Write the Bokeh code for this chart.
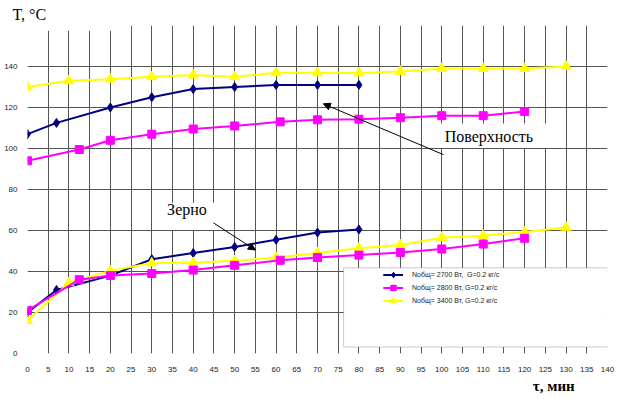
from bokeh.plotting import figure
from bokeh.models import (FixedTicker, Legend, LegendItem, BoxAnnotation, Label,
                          Arrow, NormalHead, Range1d, Title)
from bokeh.embed import file_html
from bokeh.resources import INLINE

# ---- data ----
tau_2700 = [0, 7, 20, 30, 40, 50, 60, 70, 80]
surf_2700 = [107, 112.5, 120, 125, 129, 130, 131, 131, 131]
grain_2700 = [20, 31, 38, 46, 49, 52, 55.5, 59, 60.5]

tau_2800 = [0, 12.5, 20, 30, 40, 50, 61, 70, 80, 90, 100, 110, 120]
surf_2800 = [94, 99.5, 104, 107, 109.5, 111, 113, 114, 114.3, 115, 116, 116, 118]
grain_2800 = [21, 36, 38, 39, 40.7, 43, 45.5, 46.8, 48, 49.3, 51, 53.4, 56.2]

tau_3400 = [0, 10, 20, 30, 40, 50, 60, 70, 80, 90, 100, 110, 120, 130]
surf_3400 = [130, 133, 133.8, 135, 135.8, 135, 136.9, 136.9, 136.8, 137.6, 139, 139, 139, 140]
grain_3400 = [16, 34.5, 40.3, 44.1, 44.3, 45.2, 46.8, 49, 51.3, 52.9, 56.5, 57.4, 59.3, 61.5]

labels = ["Nобщ= 2700 Вт,  G=0.2 кг/с",
          "Nобщ= 2800 Вт, G=0.2 кг/с",
          "Nобщ= 3400 Вт, G=0.2 кг/с"]
x_ticks = list(range(0, 145, 5))
y_ticks = list(range(0, 160, 20))
y_grid = list(range(0, 180, 20))

p = figure(width=637, height=399, output_backend="svg", toolbar_location=None,
           x_range=Range1d(0, 140), y_range=Range1d(0, 160),
           min_border_left=27, min_border_right=30, min_border_top=25,
           min_border_bottom=46)
p.outline_line_color = None
p.background_fill_color = "white"

for ax in (p.xaxis[0], p.yaxis[0]):
    ax.axis_line_color = None
    ax.major_tick_line_color = None
    ax.minor_tick_line_color = None
    ax.major_label_text_font = "Liberation Sans"
    ax.major_label_text_font_size = "8px"
    ax.major_label_text_color = "#222222"
p.xaxis[0].ticker = FixedTicker(ticks=x_ticks)
p.yaxis[0].ticker = FixedTicker(ticks=y_ticks)
p.xaxis[0].major_label_standoff = 7
p.yaxis[0].major_label_standoff = 4
p.xgrid[0].ticker = FixedTicker(ticks=x_ticks)
p.ygrid[0].ticker = FixedTicker(ticks=y_grid)
for g in (p.xgrid[0], p.ygrid[0]):
    g.grid_line_color = "#555555"
    g.grid_line_width = 1

# axis titles as Title panels
p.title.text = "T, °C"
p.title.text_font = "Liberation Serif"
p.title.text_font_size = "16px"
p.title.text_font_style = "normal"
p.title.text_color = "black"
p.title.align = "left"
p.title.offset = -15
p.title.standoff = 6

p.add_layout(Title(text="τ,  мин", text_font="Liberation Serif", text_font_size="15px",
                   text_font_style="bold", text_color="black", align="right",
                   offset=29, standoff=2), "below")

series = [
    (tau_2700, surf_2700, grain_2700, "#000080", "diamond", 9),
    (tau_3400, surf_3400, grain_3400, "#FFFF00", "triangle", 10),
    (tau_2800, surf_2800, grain_2800, "#FF00FF", "square", 8),
]
items = {}
for tau, surf, grain, col, mk, sz in series:
    rs = []
    for ys in (surf, grain):
        l = p.line(tau, ys, line_color=col, line_width=2)
        s = p.scatter(tau, ys, marker=mk, size=sz, fill_color=col, line_color=col)
        rs += [l, s]
    items[col] = rs

# white patches (title area, text boxes, legend box)
p.add_layout(BoxAnnotation(left=-1, right=24.8, bottom=157.4, top=162,
                           fill_color="white", fill_alpha=1, line_color=None))
p.add_layout(BoxAnnotation(left=98.0, right=129.4, bottom=100.2, top=112.2,
                           fill_color="white", fill_alpha=1, line_color=None))
p.add_layout(BoxAnnotation(left=31.4, right=45.9, bottom=60.3, top=73.5,
                           fill_color="white", fill_alpha=1, line_color=None))
p.add_layout(BoxAnnotation(left=76.3, right=141.2, bottom=3.2, top=41.8,
                           fill_color="white", fill_alpha=1,
                           line_color="#555555", line_width=1))

legend = Legend(items=[
    LegendItem(label=labels[0], renderers=items["#000080"]),
    LegendItem(label=labels[1], renderers=items["#FF00FF"]),
    LegendItem(label=labels[2], renderers=items["#FFFF00"]),
], location=(356, 46), padding=0, margin=0, spacing=0,
    glyph_width=20, glyph_height=13, label_height=13, label_standoff=9,
    border_line_color=None, background_fill_alpha=0,
    label_text_font="Liberation Sans", label_text_font_size="7px",
    label_text_color="#222222")
p.add_layout(legend)

# text annotations inside the plot
p.add_layout(Label(x=100.7, y=101.6, text="Поверхность", text_font="Liberation Serif",
                   text_font_size="16px", text_color="black"))
p.add_layout(Label(x=33.7, y=66.1, text="Зерно", text_font="Liberation Serif",
                   text_font_size="16px", text_color="black"))

p.add_layout(Arrow(x_start=100.4, y_start=97.0, x_end=71.4, y_end=121.8,
                   line_color="black", line_width=1,
                   end=NormalHead(size=7, fill_color="black", line_color="black")))
p.add_layout(Arrow(x_start=44.9, y_start=63.7, x_end=55.0, y_end=50.5,
                   line_color="black", line_width=1,
                   end=NormalHead(size=7, fill_color="black", line_color="black")))

open("out.html", "w").write(file_html(p, INLINE))
